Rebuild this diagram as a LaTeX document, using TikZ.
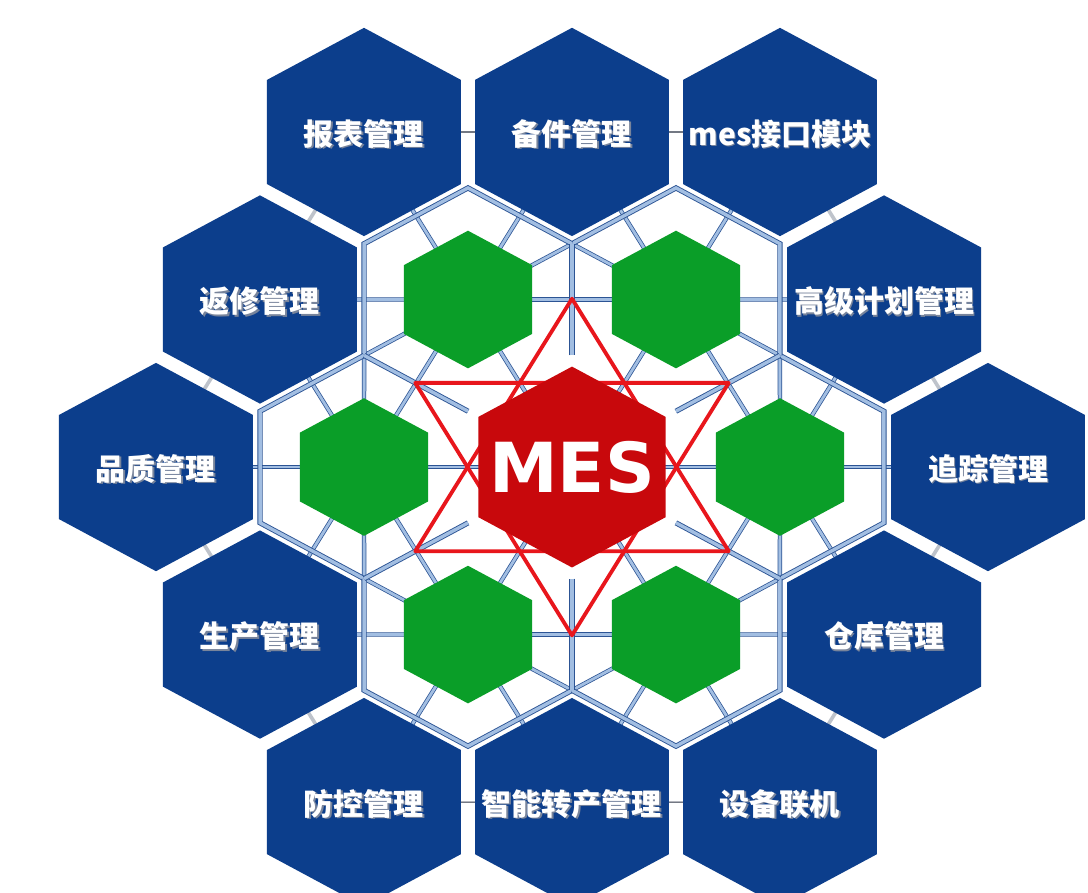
\documentclass[tikz,border=0pt]{standalone}
\usepackage{fontspec}
\setmainfont{Noto Sans CJK SC}
\newfontfamily\mesfont{DejaVu Sans}
\usetikzlibrary{calc}
\definecolor{hexblue}{RGB}{12,62,140}
\definecolor{hexgreen}{RGB}{10,158,40}
\definecolor{hexred}{RGB}{200,8,12}
\definecolor{starred}{RGB}{232,22,28}
\definecolor{meshdark}{RGB}{44,84,148}
\definecolor{meshlight}{RGB}{162,190,226}
\definecolor{linkdark}{RGB}{40,48,66}
\definecolor{linkgray}{RGB}{190,195,203}
\definecolor{shadowgray}{RGB}{120,132,155}
\tikzset{
  pics/hexa/.style={code={\path[pic actions] (30:#1) -- (90:#1) -- (150:#1) -- (210:#1) -- (270:#1) -- (330:#1) -- cycle;}},
  tileedge/.style={draw=meshdark, line width=0.9pt, double=meshlight, double distance=3.4pt, line cap=butt},
  spoke/.style={draw=meshdark, line width=0.75pt, double=meshlight, double distance=2.8pt},
  hlink/.style={draw=linkdark, line width=1.2pt},
  glink/.style={draw=linkgray, line width=3.6pt},
  bluehex/.style={fill=hexblue},
  greenhex/.style={fill=hexgreen},
  redhex/.style={fill=hexred},
  starline/.style={draw=starred, line width=3.8pt, line join=round},
  lbl/.style={text=white, font=\bfseries\fontsize{30}{32}\selectfont, inner sep=0pt},
  lblshadow/.style={text=shadowgray, font=\bfseries\fontsize{30}{32}\selectfont, inner sep=0pt},
  meslbl/.style={text=white, font=\mesfont\bfseries\fontsize{69}{74}\selectfont, inner sep=0pt}
}
\begin{document}
\begin{tikzpicture}[x=1pt,y=0.93pt]
\useasboundingbox (-572,-457) rectangle (516,502.2);
\clip (-572,-457) rectangle (516,502.2);
\fill[white] (-572,-457) rectangle (516,502.2);

% tile centres and vertices
\coordinate (C) at (0,0);
\foreach \t in {0,60,...,300} {
  \coordinate (G\t) at (\t:208);
  \coordinate (K\t) at (\t:416);
}
\foreach \t in {30,90,...,330} {
  \coordinate (E\t) at (\t:360.3);
  \coordinate (V\t) at (\t:240);
  \coordinate (W\t) at (\t:120);
}

% links between outer hexagons
\foreach \t in {30,150,210,330} {
  \pgfmathtruncatemacro\ta{\t-30}
  \pgfmathtruncatemacro\tb{mod(\t+30,360)}
  \draw[glink] (E\t) -- (K\ta);
  \draw[glink] (E\t) -- (K\tb);
}
\foreach \t in {90,270} {
  \pgfmathtruncatemacro\ta{\t-30}
  \pgfmathtruncatemacro\tb{\t+30}
  \draw[hlink] (E\t) -- (K\ta);
  \draw[hlink] (E\t) -- (K\tb);
}

% spokes through edge midpoints
\foreach \t in {0,60,...,300} {
  \pgfmathtruncatemacro\tn{mod(\t+60,360)}
  \pgfmathtruncatemacro\ea{mod(\t+330,360)}
  \pgfmathtruncatemacro\eb{\t+30}
  \draw[spoke] (C) -- (G\t);
  \draw[spoke] (G\t) -- (G\tn);
  \draw[spoke] (G\t) -- (K\t);
  \draw[spoke] (G\t) -- (E\ea);
  \draw[spoke] (G\t) -- (E\eb);
}
% spokes to shared vertices
\foreach \t in {30,90,...,330} {
  \pgfmathtruncatemacro\ga{\t-30}
  \pgfmathtruncatemacro\gb{mod(\t+30,360)}
  \draw[spoke] (V\t) -- (G\ga);
  \draw[spoke] (V\t) -- (G\gb);
}

% tile edges of the inner ring
\foreach \t in {0,60,...,300} {
  \draw[tileedge, shift={(\t:208)}] ({\t-90}:120) -- ({\t-30}:120) -- ({\t+30}:120) -- ({\t+90}:120);
}
\foreach \t in {30,90,...,330} {
  \draw[tileedge] (W\t) -- (V\t);
}

% outer blue hexagons
\foreach \t in {0,60,...,300} { \pic[bluehex] at (K\t) {hexa=112}; }
\foreach \t in {30,90,...,330} { \pic[bluehex] at (E\t) {hexa=112}; }

% green hexagons
\foreach \t in {0,60,...,300} { \pic[greenhex] at (G\t) {hexa=74}; }

% star
\draw[starline] (90:181) -- (210:181) -- (330:181) -- cycle;
\draw[starline] (270:181) -- (30:181) -- (150:181) -- cycle;

% centre
\pic[redhex] at (C) {hexa=108};
\node[meslbl] (mes) at (0,0) {MES};

% labels
\foreach \a/\d/\txt in {120/416/报表管理, 90/360.3/备件管理, 60/416/mes接口模块,
  30/360.3/高级计划管理, 0/416/追踪管理, 330/360.3/仓库管理,
  300/416/设备联机, 270/360.3/智能转产管理, 240/416/防控管理,
  210/360.3/生产管理, 180/416/品质管理, 150/360.3/返修管理} {
  \node[lblshadow] at ($(\a:\d)+(1.3,-3.4)$) {\txt};
  \node[lbl] (L\a) at ($(\a:\d)+(0,-2)$) {\txt};
}
\end{tikzpicture}
\end{document}
